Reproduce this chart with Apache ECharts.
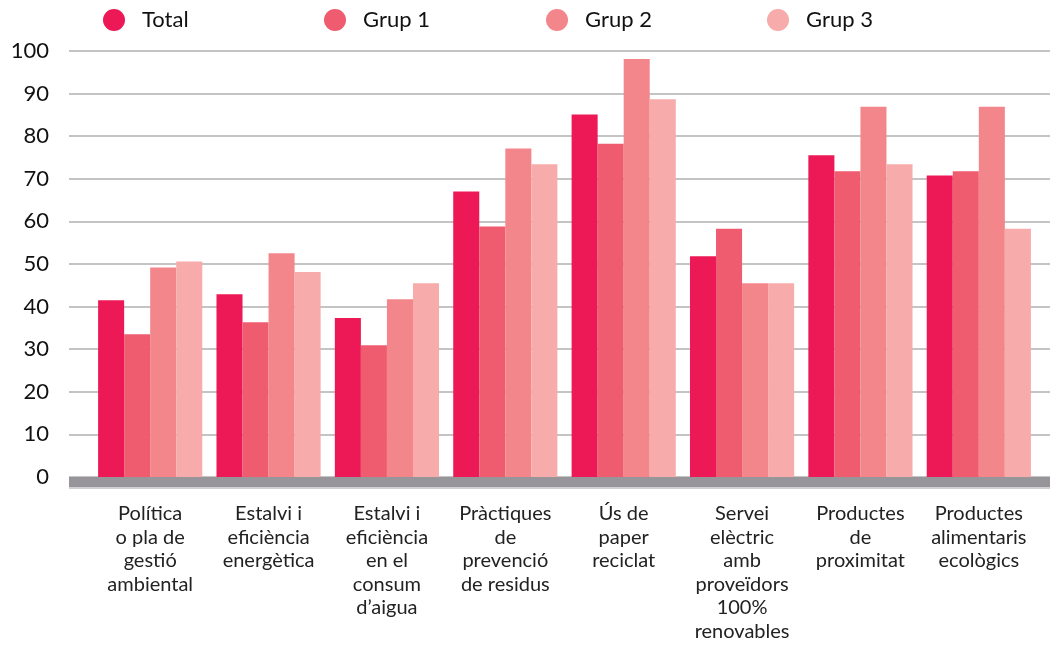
<!DOCTYPE html>
<html>
<head>
<meta charset="utf-8">
<script src="https://cdn.jsdelivr.net/npm/echarts@6/dist/echarts.min.js"></script>
<style>
  html, body { margin: 0; padding: 0; background: #fff; }
  #chart { width: 1053px; height: 648px; }
</style>
</head>
<body>
<div id="chart"></div>
<script>
// categories (x axis labels, wrapped like the original)
const categories = [
  'Política\no pla de\ngestió\nambiental',
  'Estalvi i\neficiència\nenergètica',
  'Estalvi i\neficiència\nen el\nconsum\nd’aigua',
  'Pràctiques\nde\nprevenció\nde residus',
  'Ús de\npaper\nreciclat',
  'Servei\nelèctric\namb\nproveïdors\n100%\nrenovables',
  'Productes\nde\nproximitat',
  'Productes\nalimentaris\necològics'
]
const seriesNames = ['Total', 'Grup 1', 'Grup 2', 'Grup 3']
const total = [41.5, 42.9, 37.3, 67.0, 85.1, 51.8, 75.5, 70.8]
const grup1 = [33.5, 36.3, 30.9, 58.8, 78.2, 58.3, 71.8, 71.8]
const grup2 = [49.2, 52.5, 41.7, 77.1, 98.1, 45.5, 86.9, 86.9]
const grup3 = [50.6, 48.1, 45.5, 73.4, 88.7, 45.5, 73.4, 58.3]
const colors = ['#ed1956', '#ef5b6f', '#f3868a', '#f7abab']

const font = 'Lato'
const chart = echarts.init(document.getElementById('chart'))

const legendLefts = [98, 319, 541, 762]

chart.setOption({
  animation: false,
  textStyle: { fontFamily: font },
  legend: seriesNames.map((n, i) => ({
    data: [n],
    left: legendLefts[i],
    top: 4,
    icon: 'circle',
    itemWidth: 22,
    itemHeight: 22,
    itemGap: 0,
    textStyle: { fontSize: 22, color: '#111', fontFamily: font, padding: [0, 0, 0, 12] }
  })),
  grid: [
    // background grid: gridlines, y labels, grey base band
    { left: 69, right: 3, top: 51, bottom: 171 },
    // bars
    { left: 91, width: 947, top: 51, bottom: 171 }
  ],
  xAxis: [
    {
      gridIndex: 0,
      type: 'category',
      data: [''],
      offset: 5,
      axisLine: { show: true, onZero: false, lineStyle: { color: '#97959a', width: 10, cap: 'butt' } },
      axisTick: { show: false },
      axisLabel: { show: false }
    },
    {
      // thin light line right under the grey band
      gridIndex: 0,
      type: 'category',
      data: [''],
      position: 'bottom',
      offset: 11,
      axisLine: { show: true, onZero: false, lineStyle: { color: '#d0d0d0', width: 2, cap: 'butt' } },
      axisTick: { show: false },
      axisLabel: { show: false }
    },
    {
      gridIndex: 1,
      type: 'category',
      data: categories,
      axisLine: { show: false },
      axisTick: { show: false },
      axisLabel: {
        interval: 0,
        margin: 25,
        fontSize: 20,
        lineHeight: 23.5,
        color: '#222',
        fontFamily: font,
        align: 'center'
      }
    }
  ],
  yAxis: [
    {
      gridIndex: 0,
      type: 'value',
      min: 0,
      max: 100,
      interval: 10,
      axisLine: { show: false },
      axisTick: { show: false },
      axisLabel: { fontSize: 22, color: '#111', margin: 20, fontFamily: font },
      splitLine: { show: true, lineStyle: { color: '#c4c4c4', width: 2 } }
    },
    {
      gridIndex: 1,
      type: 'value',
      min: 0,
      max: 100,
      interval: 10,
      show: false,
      splitLine: { show: false }
    }
  ],
  series: [total, grup1, grup2, grup3].map((d, i) => ({
    name: seriesNames[i],
    type: 'bar',
    xAxisIndex: 2,
    yAxisIndex: 1,
    data: d,
    barGap: '0%',
    barCategoryGap: '12%',
    itemStyle: { color: colors[i] }
  }))
})
</script>
</body>
</html>
